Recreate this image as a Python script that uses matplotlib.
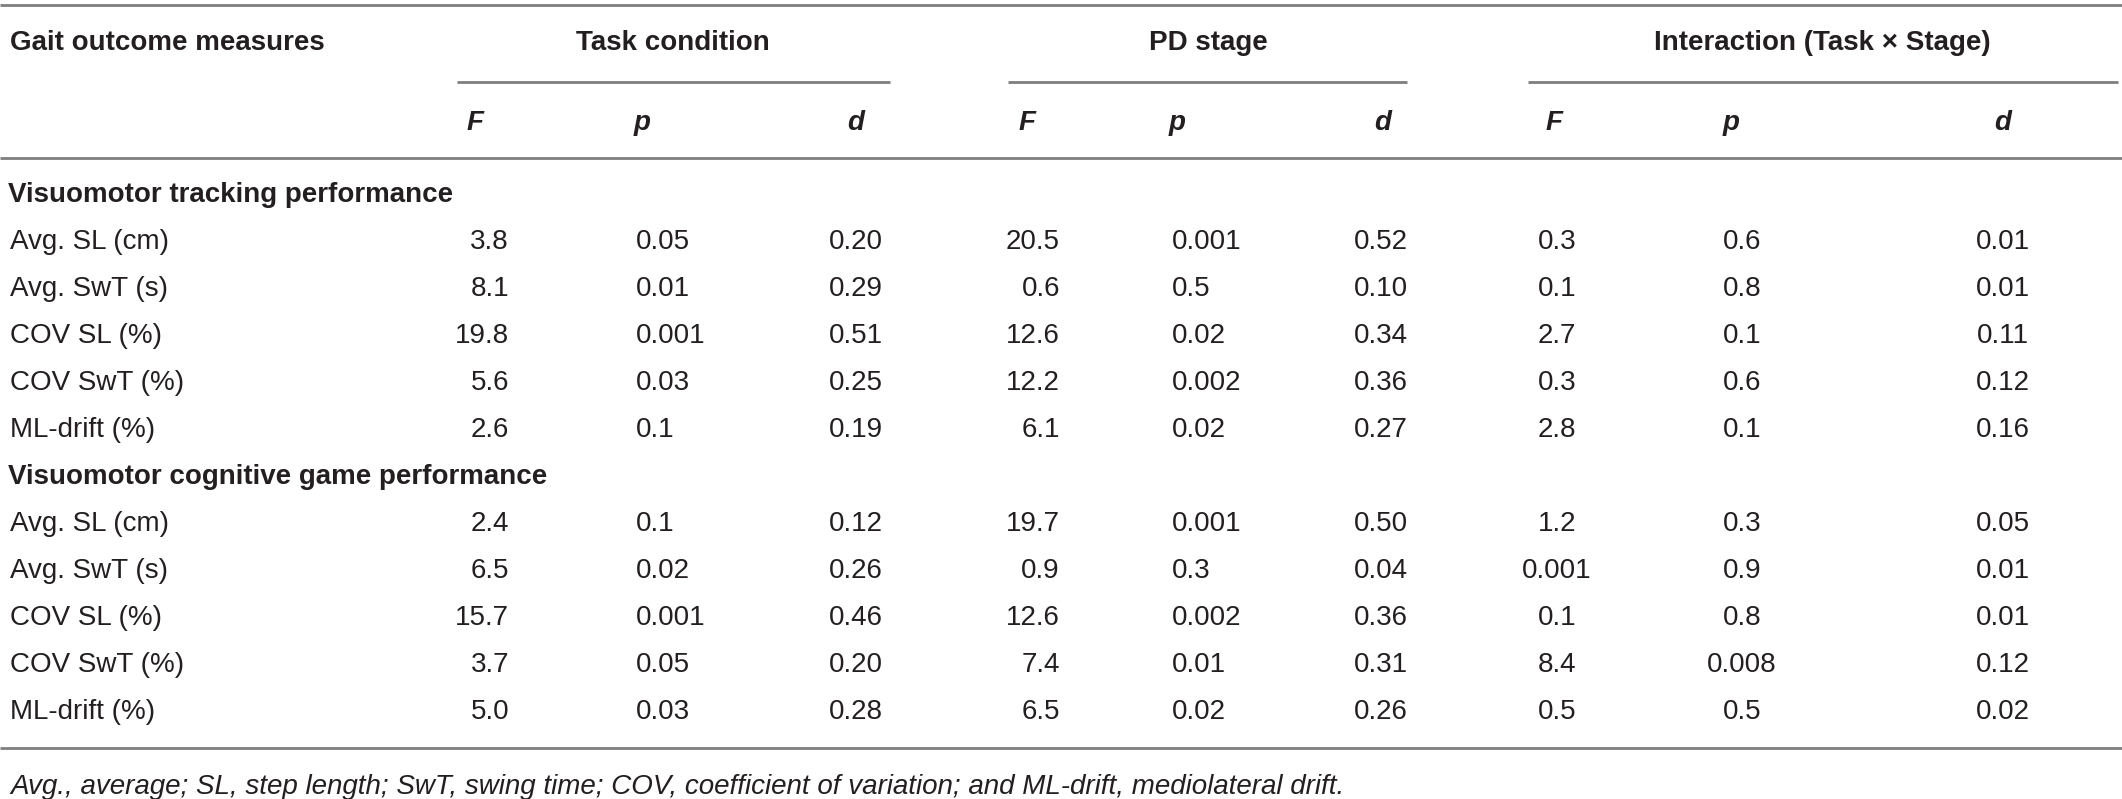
import numpy as np
import matplotlib
matplotlib.use("Agg")
import matplotlib.pyplot as plt

plt.rcParams['font.family'] = ['Liberation Sans', 'DejaVu Sans']

# table content
groups = ["Task condition", "PD stage", "Interaction (Task \u00d7 Stage)"]
stat_names = ["F", "p", "d"]
sections = ["Visuomotor tracking performance", "Visuomotor cognitive game performance"]
measures = ["Avg. SL (cm)", "Avg. SwT (s)", "COV SL (%)", "COV SwT (%)", "ML-drift (%)"]

tracking_task = [["3.8", "0.05", "0.20"], ["8.1", "0.01", "0.29"], ["19.8", "0.001", "0.51"],
                 ["5.6", "0.03", "0.25"], ["2.6", "0.1", "0.19"]]
tracking_stage = [["20.5", "0.001", "0.52"], ["0.6", "0.5", "0.10"], ["12.6", "0.02", "0.34"],
                  ["12.2", "0.002", "0.36"], ["6.1", "0.02", "0.27"]]
tracking_inter = [["0.3", "0.6", "0.01"], ["0.1", "0.8", "0.01"], ["2.7", "0.1", "0.11"],
                  ["0.3", "0.6", "0.12"], ["2.8", "0.1", "0.16"]]
game_task = [["2.4", "0.1", "0.12"], ["6.5", "0.02", "0.26"], ["15.7", "0.001", "0.46"],
             ["3.7", "0.05", "0.20"], ["5.0", "0.03", "0.28"]]
game_stage = [["19.7", "0.001", "0.50"], ["0.9", "0.3", "0.04"], ["12.6", "0.002", "0.36"],
              ["7.4", "0.01", "0.31"], ["6.5", "0.02", "0.26"]]
game_inter = [["1.2", "0.3", "0.05"], ["0.001", "0.9", "0.01"], ["0.1", "0.8", "0.01"],
              ["8.4", "0.008", "0.12"], ["0.5", "0.5", "0.02"]]

footnote = ("Avg., average; SL, step length; SwT, swing time; COV, coefficient of variation; "
            "and ML-drift, mediolateral drift.")

W, H = 2122, 799
fig = plt.figure(figsize=(W / 100, H / 100), dpi=100)
ax = fig.add_axes([0, 0, 1, 1])
ax.set_xlim(0, W)
ax.set_ylim(H, 0)
ax.axis("off")

txt = "#231f20"
rule = "#7f7f7f"
fs = 20

# column layout: (x, alignment) for F, p, d in each group
cols = [
    [(509, "right"), (636, "left"), (856, "center")],
    [(1060, "right"), (1172, "left"), (1381, "center")],
    [(1557, "center"), (1742, "center"), (2003, "center")],
]
head_x = [(475, "center"), (634, "left"), (856, "center"),
          (1027, "center"), (1169, "left"), (1383, "center"),
          (1554, "center"), (1731, "center"), (2003, "center")]
group_cx = [673, 1208, 1822]
group_lines = [(457, 890), (1008, 1407), (1528, 2118)]

# rules
for y in (5, 158, 748):
    ax.plot([0, W], [y, y], color=rule, lw=2, solid_capstyle="butt")
for x0, x1 in group_lines:
    ax.plot([x0, x1], [82, 82], color=rule, lw=2, solid_capstyle="butt")

# header
ax.text(10, 43, "Gait outcome measures", fontsize=fs, fontweight="bold", color=txt, va="center")
for g, cx in zip(groups, group_cx):
    ax.text(cx, 43, g, fontsize=fs, fontweight="bold", color=txt, va="center", ha="center")
for i, (x, ha) in enumerate(head_x):
    ax.text(x, 123, stat_names[i % 3], fontsize=fs, fontweight="bold", style="italic",
            color=txt, va="center", ha=ha)

# body
blocks = [(tracking_task, tracking_stage, tracking_inter), (game_task, game_stage, game_inter)]
row_h = 47
y = 195
for sec, blk in zip(sections, blocks):
    ax.text(8, y, sec, fontsize=fs, fontweight="bold", color=txt, va="center")
    y += row_h
    for r, m in enumerate(measures):
        ax.text(10, y, m, fontsize=fs, color=txt, va="center")
        for g in range(3):
            for s in range(3):
                x, ha = cols[g][s]
                ax.text(x, y, blk[g][r][s], fontsize=fs, color=txt, va="center", ha=ha)
        y += row_h

ax.text(10, 787, footnote, fontsize=fs, style="italic", color=txt, va="center")

fig.savefig("out.png", dpi=100)
